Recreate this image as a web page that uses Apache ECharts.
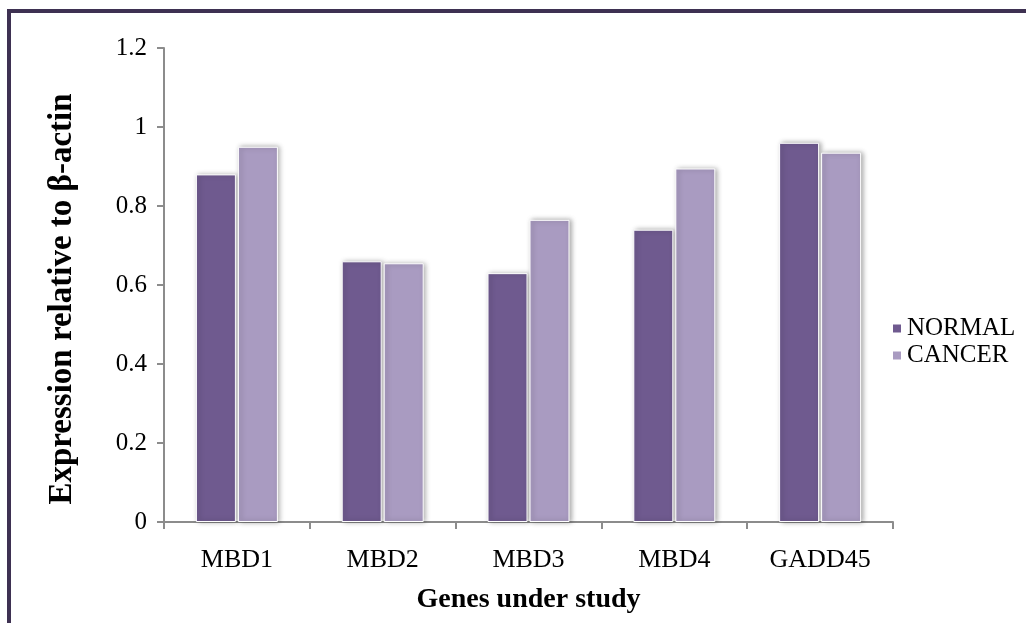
<!DOCTYPE html>
<html>
<head>
<meta charset="utf-8">
<script src="https://cdn.jsdelivr.net/npm/echarts@6/dist/echarts.min.js"></script>
<style>
  html, body { margin: 0; padding: 0; background: #ffffff; }
  #chart { width: 1026px; height: 623px; }
</style>
</head>
<body>
<div id="chart"></div>
<script>
// Gene expression (relative to β-actin) in normal vs cancer tissue
const genes = ['MBD1', 'MBD2', 'MBD3', 'MBD4', 'GADD45'];
const normalValues = [0.88, 0.66, 0.63, 0.74, 0.96];
const cancerValues = [0.95, 0.655, 0.765, 0.895, 0.935];
const seriesNames = ['NORMAL', 'CANCER'];

const FONT = '"Liberation Serif", "Times New Roman", serif';
const barStyle = (color) => ({
  color: color,
  borderColor: '#ffffff',
  borderWidth: 1,
  shadowBlur: 5,
  shadowOffsetX: 2,
  shadowOffsetY: 0,
  shadowColor: 'rgba(0,0,0,0.35)'
});

const chart = echarts.init(document.getElementById('chart'), null, { renderer: 'canvas' });
chart.setOption({
  animation: false,
  backgroundColor: '#ffffff',
  textStyle: { fontFamily: FONT, color: '#000000' },
  graphic: [{
    type: 'rect',
    shape: { x: 9, y: 11, width: 1200, height: 800 },
    style: { fill: 'none', stroke: '#3e3152', lineWidth: 4 },
    silent: true
  }],
  grid: { left: 164, right: 133, top: 48, bottom: 101, containLabel: false },
  legend: {
    orient: 'vertical',
    left: 886,
    top: 311,
    itemWidth: 10,
    itemHeight: 10,
    itemGap: 2,
    icon: 'rect',
    textStyle: { fontFamily: FONT, fontSize: 25, color: '#000000', padding: [0, 0, 0, 0] },
    data: seriesNames
  },
  xAxis: {
    type: 'category',
    data: genes,
    name: 'Genes under study',
    nameLocation: 'middle',
    nameGap: 64,
    nameTextStyle: { fontFamily: FONT, fontSize: 28, fontWeight: 'bold', color: '#000000' },
    axisLine: { lineStyle: { color: '#8c8c8c', width: 2 } },
    axisTick: { show: true, length: 7, lineStyle: { color: '#8c8c8c', width: 2 } },
    axisLabel: { fontFamily: FONT, fontSize: 26, color: '#000000', margin: 25 }
  },
  yAxis: {
    type: 'value',
    min: 0,
    max: 1.2,
    interval: 0.2,
    name: 'Expression relative to β-actin',
    nameLocation: 'middle',
    nameGap: 85,
    nameTextStyle: { fontFamily: FONT, fontSize: 33, fontWeight: 'bold', color: '#000000', padding: [0, 0, 0, -28] },
    axisLine: { show: true, lineStyle: { color: '#8c8c8c', width: 2 } },
    axisTick: { show: true, length: 7, lineStyle: { color: '#8c8c8c', width: 2 } },
    splitLine: { show: false },
    axisLabel: {
      fontFamily: FONT, fontSize: 25, color: '#000000', margin: 17,
      formatter: (v) => String(Math.round(v * 10) / 10)
    }
  },
  series: [
    {
      name: seriesNames[0],
      type: 'bar',
      data: normalValues,
      barWidth: 40,
      barGap: '5%',
      itemStyle: barStyle('#6f5a8f')
    },
    {
      name: seriesNames[1],
      type: 'bar',
      data: cancerValues,
      barWidth: 40,
      barGap: '5%',
      itemStyle: barStyle('#a99bc1')
    }
  ]
});
</script>
</body>
</html>
